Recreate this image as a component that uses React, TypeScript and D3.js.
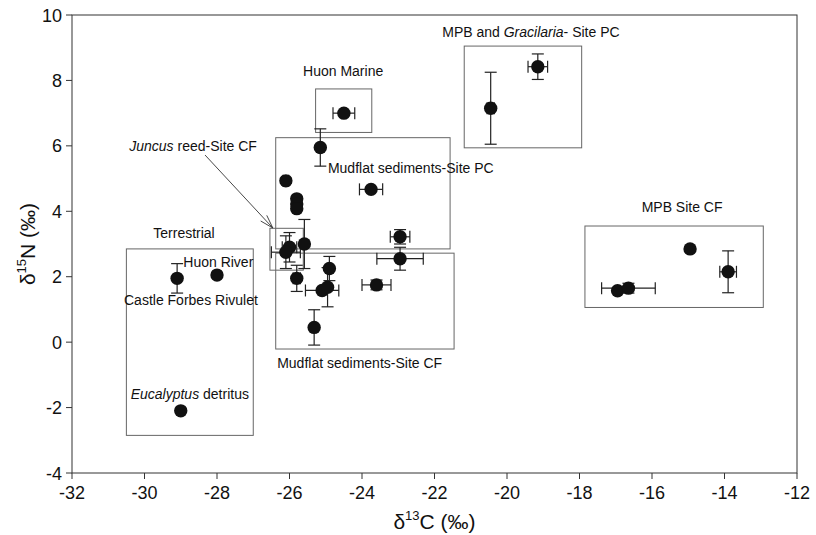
import React from "react";
import * as d3 from "d3";

// ---- data ----
const xTicks = [-32, -30, -28, -26, -24, -22, -20, -18, -16, -14, -12];
const yTicks = [-4, -2, 0, 2, 4, 6, 8, 10];

// points: [d13C, d15N, xErr, yErr]
const terrestrial = [
  [-29.1, 1.95, 0, 0.45],
  [-28.0, 2.05, 0, 0],
  [-29.0, -2.1, 0, 0],
];
const huonMarine = [[-24.5, 7.0, 0.3, 0]];
const mpbGracilaria = [
  [-19.15, 8.42, 0.27, 0.39],
  [-20.45, 7.15, 0.1, 1.1],
];
const mpbSiteCF = [
  [-14.95, 2.85, 0, 0],
  [-13.9, 2.15, 0.23, 0.64],
  [-16.95, 1.57, 0, 0],
  [-16.65, 1.65, 0.74, 0.15],
];
const mudflatPC = [
  [-25.15, 5.95, 0, 0.57],
  [-23.75, 4.67, 0.32, 0],
  [-26.1, 4.93, 0.08, 0.08],
  [-25.8, 4.38, 0, 0],
  [-25.8, 4.22, 0, 0],
  [-25.8, 4.08, 0, 0],
  [-25.59, 3.0, 0, 0.75],
  [-22.95, 3.22, 0.27, 0.22],
];
const juncus = [
  [-26.0, 2.9, 0.2, 0.45],
  [-26.1, 2.75, 0.4, 0.5],
];
const mudflatCF = [
  [-25.8, 1.95, 0.1, 0.4],
  [-24.9, 2.25, 0, 0.37],
  [-25.1, 1.58, 0.46, 0],
  [-24.95, 1.68, 0, 0.6],
  [-25.32, 0.45, 0, 0.54],
  [-22.95, 2.55, 0.64, 0.35],
  [-23.6, 1.75, 0.4, 0.15],
];

// group boxes: [x0, x1, y0, y1]
const boxTerrestrial = [-30.5, -27.0, -2.85, 2.85];
const boxJuncus = [-26.54, -25.62, 2.2, 3.48];
const boxHuonMarine = [-25.28, -23.73, 6.41, 7.74];
const boxMudflatPC = [-26.38, -21.57, 2.85, 6.25];
const boxMudflatCF = [-26.38, -21.46, -0.21, 2.72];
const boxMpbGracilaria = [-21.18, -17.94, 5.94, 9.05];
const boxMpbCF = [-17.85, -12.93, 1.06, 3.55];

// labels: [x, y, anchor, parts] parts: [text, italic]
const labels: [number, number, string, [string, boolean][]][] = [
  [-19.34, 9.48, "middle", [["MPB and ", false], ["Gracilaria", true], ["- Site PC", false]]],
  [-24.52, 8.29, "middle", [["Huon Marine", false]]],
  [-26.9, 6.0, "end", [["Juncus", true], [" reed-Site CF", false]]],
  [-24.94, 5.33, "start", [["Mudflat sediments-Site PC", false]]],
  [-28.91, 3.33, "middle", [["Terrestrial", false]]],
  [-28.93, 2.45, "start", [["Huon River", false]]],
  [-28.72, 1.29, "middle", [["Castle Forbes Rivulet", false]]],
  [-28.75, -1.59, "middle", [["Eucalyptus", true], [" detritus", false]]],
  [-26.34, -0.65, "start", [["Mudflat sediments-Site CF", false]]],
  [-15.17, 4.14, "middle", [["MPB Site CF", false]]],
];

const arrowFrom = [-28.33, 5.72];
const arrowTo = [-26.46, 3.49];

const W = 816;
const H = 535;
const M = { left: 72, right: 19, top: 15, bottom: 62 };
const FONT = "'Liberation Sans', Arial, Helvetica, sans-serif";

export default function App() {
  const x = d3.scaleLinear().domain([-32, -12]).range([M.left, W - M.right]);
  const y = d3.scaleLinear().domain([-4, 10]).range([H - M.bottom, M.top]);

  const allPoints = [
    ...terrestrial,
    ...huonMarine,
    ...mpbGracilaria,
    ...mpbSiteCF,
    ...mudflatPC,
    ...juncus,
    ...mudflatCF,
  ];
  const boxes = [
    boxTerrestrial,
    boxJuncus,
    boxHuonMarine,
    boxMudflatPC,
    boxMudflatCF,
    boxMpbGracilaria,
    boxMpbCF,
  ];
  const cap = 6;
  const barColor = "#222";

  // arrow geometry
  const ax0 = x(arrowFrom[0]);
  const ay0 = y(arrowFrom[1]);
  const ax1 = x(arrowTo[0]);
  const ay1 = y(arrowTo[1]);
  const ang = Math.atan2(ay1 - ay0, ax1 - ax0);
  const hl = 14;
  const spread = 0.3;
  const barb = (s: number) => [
    ax1 - hl * Math.cos(ang + s * spread),
    ay1 - hl * Math.sin(ang + s * spread),
  ];
  const b1 = barb(1);
  const b2 = barb(-1);

  return (
    <svg
      width={W}
      height={H}
      style={{ position: "absolute", left: 0, top: 0, background: "#fff" }}
      fontFamily={FONT}
    >
      <rect x={0} y={0} width={W} height={H} fill="#fff" />
      {/* plot frame */}
      <rect
        x={M.left}
        y={M.top}
        width={W - M.left - M.right}
        height={H - M.top - M.bottom}
        fill="none"
        stroke="#333"
        strokeWidth={1}
      />
      {/* group boxes */}
      {boxes.map((b, i) => (
        <rect
          key={"b" + i}
          x={x(b[0])}
          y={y(b[3])}
          width={x(b[1]) - x(b[0])}
          height={y(b[2]) - y(b[3])}
          fill="none"
          stroke="#666"
          strokeWidth={1}
        />
      ))}
      {/* axes ticks */}
      {xTicks.map((t) => (
        <g key={"xt" + t}>
          <line x1={x(t)} x2={x(t)} y1={H - M.bottom} y2={H - M.bottom + 6} stroke="#333" />
          <text x={x(t)} y={H - M.bottom + 26} fontSize={18} textAnchor="middle" fill="#111">
            {t}
          </text>
        </g>
      ))}
      {yTicks.map((t) => (
        <g key={"yt" + t}>
          <line x1={M.left - 6} x2={M.left} y1={y(t)} y2={y(t)} stroke="#333" />
          <text x={M.left - 10} y={y(t) + 6.5} fontSize={18} textAnchor="end" fill="#111">
            {t}
          </text>
        </g>
      ))}
      {/* axis titles */}
      <text x={(M.left + W - M.right) / 2} y={529} fontSize={21} textAnchor="middle" fill="#111">
        δ<tspan fontSize={13} dy={-9}>13</tspan>
        <tspan dy={9}>C (‰)</tspan>
      </text>
      <text
        transform={`translate(35, ${(M.top + H - M.bottom) / 2}) rotate(-90)`}
        fontSize={21}
        textAnchor="middle"
        fill="#111"
      >
        δ<tspan fontSize={13} dy={-9}>15</tspan>
        <tspan dy={9}>N (‰)</tspan>
      </text>
      {/* error bars */}
      {allPoints.map((p, i) => {
        const cx = x(p[0]);
        const cy = y(p[1]);
        const els = [];
        if (p[2] > 0) {
          const xl = x(p[0] - p[2]);
          const xr = x(p[0] + p[2]);
          els.push(<line key="h" x1={xl} x2={xr} y1={cy} y2={cy} stroke={barColor} strokeWidth={1.2} />);
          els.push(<line key="hl" x1={xl} x2={xl} y1={cy - cap} y2={cy + cap} stroke={barColor} strokeWidth={1.2} />);
          els.push(<line key="hr" x1={xr} x2={xr} y1={cy - cap} y2={cy + cap} stroke={barColor} strokeWidth={1.2} />);
        }
        if (p[3] > 0) {
          const yt = y(p[1] + p[3]);
          const yb = y(p[1] - p[3]);
          els.push(<line key="v" x1={cx} x2={cx} y1={yt} y2={yb} stroke={barColor} strokeWidth={1.2} />);
          els.push(<line key="vt" x1={cx - cap} x2={cx + cap} y1={yt} y2={yt} stroke={barColor} strokeWidth={1.2} />);
          els.push(<line key="vb" x1={cx - cap} x2={cx + cap} y1={yb} y2={yb} stroke={barColor} strokeWidth={1.2} />);
        }
        return <g key={"e" + i}>{els}</g>;
      })}
      {/* points */}
      {allPoints.map((p, i) => (
        <circle key={"p" + i} cx={x(p[0])} cy={y(p[1])} r={6.7} fill="#111" />
      ))}
      {/* labels */}
      {labels.map((l, i) => (
        <text
          key={"l" + i}
          x={x(l[0])}
          y={y(l[1]) + 5}
          fontSize={14}
          textAnchor={l[2] as any}
          fill="#111"
        >
          {l[3].map((part, j) => (
            <tspan key={j} fontStyle={part[1] ? "italic" : "normal"}>
              {part[0]}
            </tspan>
          ))}
        </text>
      ))}
      {/* arrow */}
      <line x1={ax0} y1={ay0} x2={ax1} y2={ay1} stroke="#333" strokeWidth={0.9} />
      <line x1={ax1} y1={ay1} x2={b1[0]} y2={b1[1]} stroke="#333" strokeWidth={0.9} />
      <line x1={ax1} y1={ay1} x2={b2[0]} y2={b2[1]} stroke="#333" strokeWidth={0.9} />
    </svg>
  );
}
